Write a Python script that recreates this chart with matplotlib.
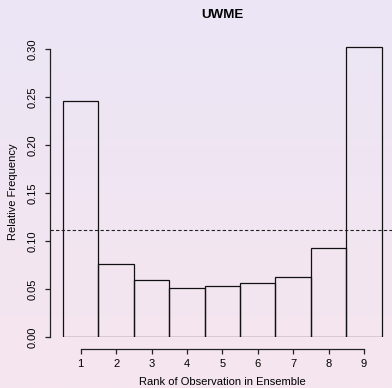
import numpy as np
import matplotlib
matplotlib.use("Agg")
import matplotlib.pyplot as plt

# rank histogram data
ranks = [1, 2, 3, 4, 5, 6, 7, 8, 9]
freqs = [0.246, 0.076, 0.059, 0.051, 0.053, 0.056, 0.063, 0.093, 0.302]
uniform = 1 / 9
yticks = [0.00, 0.05, 0.10, 0.15, 0.20, 0.25, 0.30]

plt.rcParams['font.family'] = ['Liberation Sans', 'DejaVu Sans']

fig = plt.figure(figsize=(3.92, 3.88), dpi=100)

# soft lavender-to-pink background
bg = fig.add_axes([0, 0, 1, 1], zorder=-1)
top = np.array([235, 230, 246]) / 255
bot = np.array([246, 229, 238]) / 255
t = np.linspace(0, 1, 256)[:, None]
grad = (top * (1 - t) + bot * t)[:, None, :]
bg.imshow(grad, aspect='auto', extent=[0, 1, 0, 1])
bg.axis('off')

W, H = 392, 388
ax = fig.add_axes([50 / W, (H - 337) / H, 342 / W, 297 / H])
ax.patch.set_alpha(0)

ax.bar(ranks, freqs, width=1.0, fill=False, edgecolor='#111111', linewidth=0.9)
ax.axhline(uniform, color='#222222', linestyle=(0, (3, 2)), linewidth=0.8)

ax.set_xlim(0.133, 9.79)
ax.set_ylim(0, 297 / 960)

for s in ['top', 'right']:
    ax.spines[s].set_visible(False)
ax.spines['left'].set_bounds(0, 0.30)
ax.spines['bottom'].set_bounds(1, 9)
ax.spines['bottom'].set_position(('outward', 8.6))
for s in ['left', 'bottom']:
    ax.spines[s].set_linewidth(0.9)
    ax.spines[s].set_color('#222222')

ax.set_xticks(ranks)
ax.set_xticklabels([str(r) for r in ranks], fontsize=8)
ax.set_yticks(yticks)
ax.set_yticklabels(['%.2f' % v for v in yticks], fontsize=8, rotation=90, va='center')
ax.tick_params(axis='both', length=3.6, width=0.9, color='#222222')
ax.tick_params(axis='x', pad=3.6)
ax.tick_params(axis='y', pad=5)

fig.text(222 / W, 1 - 15 / H, 'UWME', fontsize=9.6, fontweight='bold',
         ha='center', va='center')
fig.text(222 / W, 1 - 382 / H, 'Rank of Observation in Ensemble', fontsize=8,
         ha='center', va='center')
fig.text(13 / W, 1 - 192 / H, 'Relative Frequency', fontsize=8, rotation=90,
         ha='center', va='center')

fig.savefig('out.png', dpi=100)
